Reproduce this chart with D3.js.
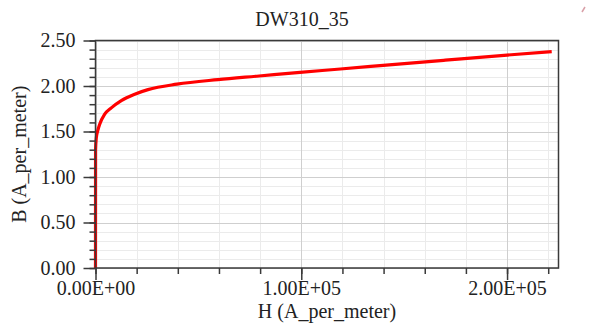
<!DOCTYPE html>
<html>
<head>
<meta charset="utf-8">
<script src="https://cdn.jsdelivr.net/npm/d3@7"></script>
<style>
  body { margin: 0; background: #fff; }
  text { font-family: "Liberation Serif", "Times New Roman", serif; fill: #222; }
  .grid line { shape-rendering: crispEdges; }
  .grid path { display: none; }
</style>
</head>
<body>
<script>
'use strict';

// H (A/m) and B readings
var hValues = [0, 30, 390, 1100, 2040, 4470, 7680, 12540, 19050, 25500, 39600, 59500, 79500, 99400, 119000, 138300, 170000, 200000, 221700];
var bValues = [0, 1.30, 1.43, 1.51, 1.58, 1.69, 1.76, 1.84, 1.91, 1.96, 2.02, 2.07, 2.11, 2.15, 2.187, 2.224, 2.284, 2.34, 2.378];

var xMajorTicks = [0, 100000, 200000];
var yMajorTicks = [0, 0.5, 1.0, 1.5, 2.0, 2.5];
var titleText = 'DW310_35';
var xLabel = 'H (A_per_meter)';
var yLabel = 'B (A_per_meter)';

var width = 590, height = 325;
var margin = { top: 40.5, right: 31.5, bottom: 57, left: 95.5 };
var innerW = width - margin.left - margin.right;
var innerH = height - margin.top - margin.bottom;
var fontSize = '20px';

var x = d3.scaleLinear().domain([0, 225000]).range([0, innerW]);
var y = d3.scaleLinear().domain([0, 2.5]).range([innerH, 0]);

var xMinor = d3.range(0, 225001, 20000);
var yMinor = d3.range(0, 26).map(function (d) { return d / 10; });

var sciFormat = function (v) {
  var s = v.toExponential(2).toUpperCase();
  return s.replace(/E([+-])(\d)$/, 'E$10$2');
};

var svg = d3.select('body').append('svg')
  .attr('width', width)
  .attr('height', height);

svg.append('text')
  .attr('x', 302)
  .attr('y', 26)
  .attr('text-anchor', 'middle')
  .style('font-size', fontSize)
  .text(titleText);

var g = svg.append('g')
  .attr('transform', 'translate(' + margin.left + ',' + margin.top + ')');

// minor grid
g.append('g')
  .attr('class', 'grid')
  .call(d3.axisLeft(y).tickValues(yMinor).tickSize(-innerW).tickFormat(''))
  .selectAll('line').attr('stroke', '#ebebeb');
g.append('g')
  .attr('class', 'grid')
  .attr('transform', 'translate(0,' + innerH + ')')
  .call(d3.axisBottom(x).tickValues(xMinor).tickSize(-innerH).tickFormat(''))
  .selectAll('line').attr('stroke', '#ebebeb');

// major grid
g.append('g')
  .attr('class', 'grid')
  .call(d3.axisLeft(y).tickValues(yMajorTicks).tickSize(-innerW).tickFormat(''))
  .selectAll('line').attr('stroke', '#cfcfcf');
g.append('g')
  .attr('class', 'grid')
  .attr('transform', 'translate(0,' + innerH + ')')
  .call(d3.axisBottom(x).tickValues(xMajorTicks).tickSize(-innerH).tickFormat(''))
  .selectAll('line').attr('stroke', '#cfcfcf');

// curve
var line = d3.line()
  .x(function (d, i) { return x(hValues[i]); })
  .y(function (d, i) { return y(bValues[i]); })
  .curve(d3.curveMonotoneX);

g.append('path')
  .datum(hValues)
  .attr('fill', 'none')
  .attr('stroke', '#ff0000')
  .attr('stroke-width', 3.2)
  .attr('d', line);

// frame
g.append('rect')
  .attr('width', innerW)
  .attr('height', innerH)
  .attr('fill', 'none')
  .attr('stroke', '#3a3a3a')
  .attr('stroke-width', 1.5);

// minor ticks
g.append('g')
  .call(d3.axisLeft(y).tickValues(yMinor).tickSize(6).tickFormat(''))
  .call(function (s) { s.select('.domain').remove(); })
  .selectAll('line').attr('stroke', '#3a3a3a').attr('stroke-width', 1.5);
g.append('g')
  .attr('transform', 'translate(0,' + innerH + ')')
  .call(d3.axisBottom(x).tickValues(xMinor).tickSize(6).tickFormat(''))
  .call(function (s) { s.select('.domain').remove(); })
  .selectAll('line').attr('stroke', '#3a3a3a').attr('stroke-width', 1.5);

// major ticks + labels
var yAxis = g.append('g')
  .call(d3.axisLeft(y).tickValues(yMajorTicks).tickSize(12).tickPadding(8).tickFormat(d3.format('.2f')))
  .call(function (s) { s.select('.domain').remove(); });
yAxis.selectAll('line').attr('stroke', '#3a3a3a').attr('stroke-width', 1.5);
yAxis.selectAll('text').style('font-size', fontSize).attr('fill', '#222');

var xAxis = g.append('g')
  .attr('transform', 'translate(0,' + innerH + ')')
  .call(d3.axisBottom(x).tickValues(xMajorTicks).tickSize(12).tickPadding(1).tickFormat(sciFormat))
  .call(function (s) { s.select('.domain').remove(); });
xAxis.selectAll('line').attr('stroke', '#3a3a3a').attr('stroke-width', 1.5);
xAxis.selectAll('text').style('font-size', fontSize).attr('fill', '#222');

svg.selectAll('.tick text').style('font-family', '"Liberation Serif", serif');

// axis titles
svg.append('text')
  .attr('x', margin.left + innerW / 2)
  .attr('y', 318)
  .attr('text-anchor', 'middle')
  .style('font-size', fontSize)
  .text(xLabel);

svg.append('text')
  .attr('transform', 'translate(26,' + (margin.top + innerH / 2) + ') rotate(-90)')
  .attr('text-anchor', 'middle')
  .style('font-size', fontSize)
  .text(yLabel);

// small marker at top right corner
svg.append('path')
  .attr('d', 'M582,12 L585,7')
  .attr('stroke', '#d9a0a8')
  .attr('stroke-width', 1.5);
</script>
</body>
</html>
